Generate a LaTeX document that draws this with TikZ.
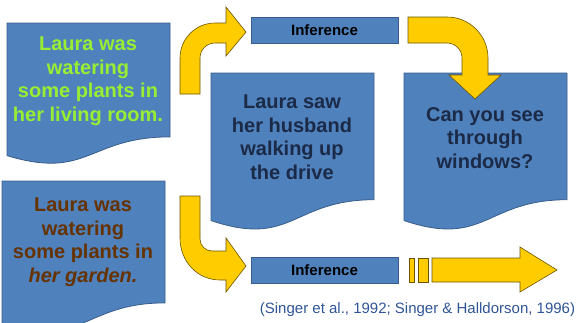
\documentclass[tikz,border=0pt]{standalone}
\usepackage{fontspec}
\setmainfont{Liberation Sans}
\definecolor{boxfill}{HTML}{4F81BD}
\definecolor{boxline}{HTML}{385D8A}
\definecolor{navy}{HTML}{1B2A47}
\definecolor{lgreen}{HTML}{99EE33}
\definecolor{brownc}{HTML}{663300}
\definecolor{arrowfill}{HTML}{FFCC00}
\definecolor{arrowline}{HTML}{6B5500}
\definecolor{citecol}{HTML}{2F5597}
\newcommand\docpath[4]{%
  \draw[docbox] (#1,#2) -- ({#1+#3},#2) -- ({#1+#3},{#2+0.802*#4})
    .. controls ({#1+0.5*#3},{#2+0.802*#4}) and ({#1+0.5*#3},{#2+1.1075*#4}) ..
    (#1,{#2+0.934*#4}) -- cycle;}
\tikzset{
  docbox/.style={fill=boxfill, draw=boxline, line width=0.8pt},
  yarrow/.style={fill=arrowfill, draw=arrowline, line width=0.6pt, line join=miter},
  bigtext/.style={font=\fontsize{20}{23.5}\selectfont\bfseries, align=center, inner sep=0pt},
  infbox/.style={draw=boxline, fill=boxfill, line width=0.8pt, minimum width=147pt,
    minimum height=26pt, inner sep=0pt, font=\fontsize{15}{18}\selectfont\bfseries, text=black},
  citetext/.style={font=\fontsize{15}{18}\selectfont, text=citecol, inner sep=0pt}
}
\begin{document}
\begin{tikzpicture}[x=1pt,y=-1pt]
\useasboundingbox (0,0) rectangle (580,322);
% document boxes
\docpath{7}{23}{163}{142}
\docpath{2}{181}{163}{152}
\docpath{211}{73}{163}{158}
\docpath{404}{73}{163}{158}
% texts
\node[bigtext, text=lgreen] (t1) at (88,81) {Laura was\\watering\\some plants in\\her living room.};
\node[bigtext, text=brownc] (t2) at (83,242) {Laura was\\watering\\some plants in\\\textit{her garden.}};
\node[bigtext, text=navy] (t3) at (292,137) {Laura saw\\her husband\\walking up\\the drive};
\node[bigtext, text=navy] (t4) at (485,138) {Can you see\\through\\windows?};
% inference boxes
\node[infbox] (inf1) at (324.5,30) {Inference};
\node[infbox] (inf2) at (324.5,270) {Inference};
% top-left curved arrow
\draw[yarrow] (180,94) -- (180,58) .. controls (180,38.7) and (195.7,23) .. (215,23)
  -- (226,23) -- (226,7) -- (246,32) -- (226,56) -- (226,43) -- (215,43)
  .. controls (206.7,43) and (200,49.7) .. (200,58) -- (200,94) -- cycle;
% top-right curved arrow
\draw[yarrow] (408,17) -- (447,17) .. controls (469.6,17) and (488,35.4) .. (488,58)
  -- (488,75) -- (501,75) -- (475,99) -- (449,75) -- (462,75) -- (462,58)
  .. controls (462,49.7) and (455.3,43) .. (447,43) -- (408,43) -- cycle;
% bottom-left curved arrow
\draw[yarrow] (180,196) -- (180,238) .. controls (180,262) and (198,280) .. (220,280)
  -- (226,280) -- (226,292) -- (246,266) -- (226,238) -- (226,251) -- (212,251)
  .. controls (205.4,251) and (200,245.6) .. (200,239) -- (200,196) -- cycle;
% striped arrow
\draw[yarrow] (409,258) rectangle (414,282);
\draw[yarrow] (418,258) rectangle (428,282);
\draw[yarrow] (432,258) -- (520,258) -- (520,247) -- (557,270) -- (520,292) -- (520,282) -- (432,282) -- cycle;
% citation
\node[citetext] (cite) at (417.5,310) {(Singer et al., 1992; Singer \& Halldorson, 1996)};
\end{tikzpicture}
\end{document}
